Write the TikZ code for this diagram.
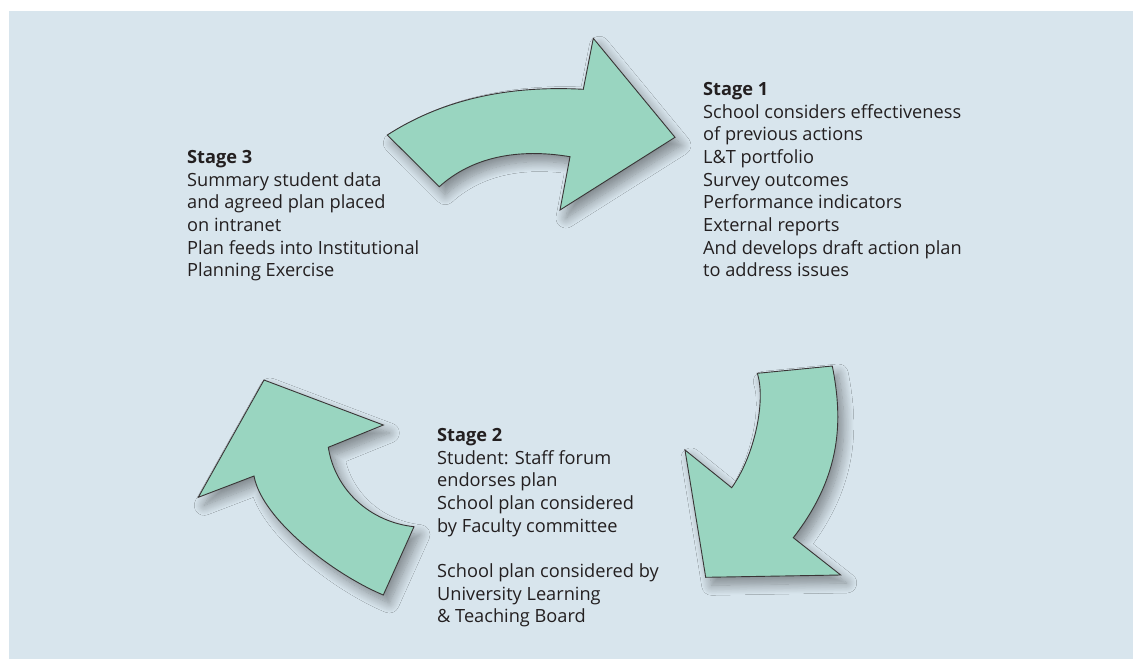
\documentclass[tikz,border=0pt]{standalone}
\usepackage{fontspec}
\setmainfont{Open Sans}
\usetikzlibrary{shadows.blur}
\definecolor{panel}{HTML}{D8E5ED}
\definecolor{arrowfill}{HTML}{99D5C0}
\definecolor{ink}{HTML}{231F20}
\begin{document}
\begin{tikzpicture}[x=1pt,y=-1pt,
  cyclearrow/.style={fill=arrowfill, draw=ink!90, line width=0.9pt, line join=miter,
    blur shadow={shadow xshift=6pt, shadow yshift=-8pt, shadow blur radius=10pt,
      shadow blur steps=12, shadow opacity=40}},
  stagetext/.style={anchor=north west, inner sep=0pt, align=left, text=ink,
    font=\fontsize{18.2}{22.7}\selectfont}]
\useasboundingbox (0,0) rectangle (1133,659);
\fill[white] (0,0) rectangle (1133,659);
\fill[panel] (9,10.5) rectangle (1133,659);

% top arrow: Stage 3 -> Stage 1
\path[cyclearrow] (387.3,135)
  .. controls (441.3,100.3) and (506.4,85.1) .. (583.3,89.3)
  -- (593.3,38.3) -- (675,137.3) -- (560,210) -- (570,156.7)
  .. controls (518,148) and (472,157) .. (439.3,186.7) -- cycle;

% right arrow: Stage 1 -> Stage 2
\path[cyclearrow] (757.3,373.3) -- (832.3,366)
  .. controls (843,420) and (842,475) .. (793.3,537.7)
  -- (840.7,575) -- (705.7,577.3) -- (685,450) -- (731.7,487.7)
  .. controls (755,455) and (766,400) .. cycle;

% left arrow: Stage 2 -> Stage 3
\path[cyclearrow] (264,380) -- (383.3,425) -- (328.3,447.3)
  .. controls (335,490) and (370,522) .. (414,526.7)
  -- (383.3,595)
  .. controls (335,575) and (262,520) .. (254,476)
  -- (198.3,497.3) -- cycle;

\node[stagetext] (stageone) at (703,82) {\textbf{Stage 1}\\
School considers effectiveness\\
of previous actions\\
L\&T portfolio\\
Survey outcomes\\
Performance indicators\\
External reports\\
And develops draft action plan\\
to address issues};

\node[stagetext] (stagethree) at (187,150) {\textbf{Stage 3}\\
Summary student data\\
and agreed plan placed\\
on intranet\\
Plan feeds into Institutional\\
Planning Exercise};

\node[stagetext] (stagetwo) at (437,428) {\textbf{Stage 2}\\
Student: Staff forum\\
endorses plan\\
School plan considered\\
by Faculty committee\\[22.7pt]
School plan considered by\\
University Learning\\
\& Teaching Board};
\end{tikzpicture}
\end{document}
